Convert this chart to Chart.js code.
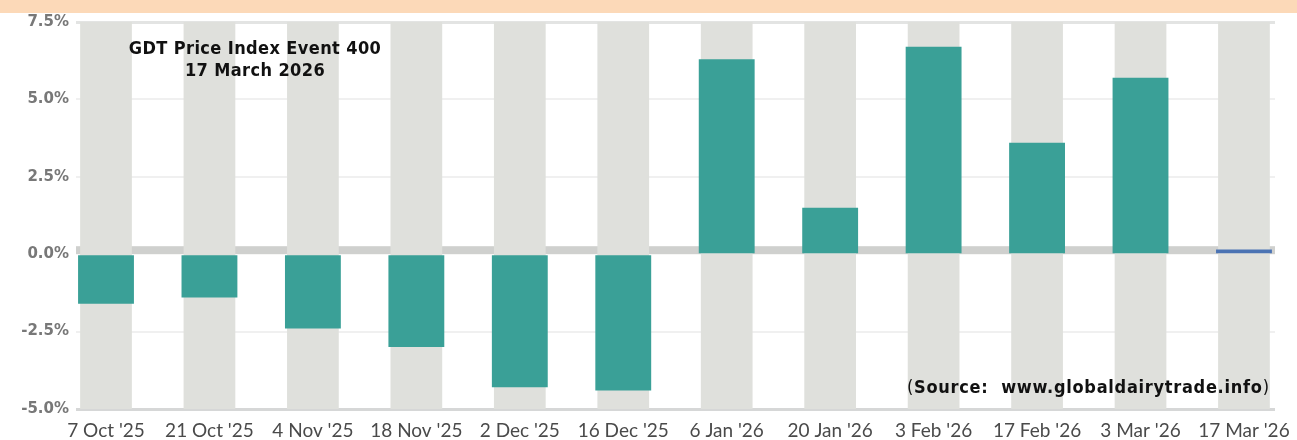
<!DOCTYPE html>
<html>
  <head>
    <meta charset="UTF-8" />
    <script src="https://cdn.jsdelivr.net/npm/chart.js"></script>
    <style>
      html, body { margin: 0; padding: 0; background: #fff; }
      #wrap { position: relative; width: 1297px; height: 440px; overflow: hidden; }
      #band { position: absolute; left: 0; top: 0; width: 1297px; height: 13px; background: #fcd9b8; }
      .note {
        position: absolute;
        font-family: "DejaVu Sans Condensed", "DejaVu Sans", sans-serif;
        font-weight: 700;
        color: #111;
        white-space: nowrap;
        font-size: 18px;
        line-height: 22px;
      }
      #title { left: 105px; top: 37px; width: 300px; text-align: center; letter-spacing: 0.4px; }
      #source { left: 907px; top: 376px; letter-spacing: 0.72px; }
      #source .p { font-weight: 400; }
    </style>
  </head>
  <body>
    <div id="wrap">
      <canvas id="myChart" width="1297" height="440"></canvas>
      <div id="band"></div>
      <div id="title" class="note">GDT Price Index Event 400<br />17 March 2026</div>
      <div id="source" class="note"><span class="p">(</span>Source:&nbsp; www.globaldairytrade.info<span class="p">)</span></div>
    </div>
    <script>
      // GDT auctions, percentage change in price index
      const labels = [
        "7 Oct '25", "21 Oct '25", "4 Nov '25", "18 Nov '25", "2 Dec '25", "16 Dec '25",
        "6 Jan '26", "20 Jan '26", "3 Feb '26", "17 Feb '26", "3 Mar '26", "17 Mar '26",
      ];
      const changes = [-1.6, -1.4, -2.4, -3.0, -4.3, -4.4, 6.3, 1.5, 6.7, 3.6, 5.7, 0.15];
      const yTicks = [-5, -2.5, 0, 2.5, 5, 7.5];

      const teal = "#3aa097";
      const blue = "#4b73b3";
      const colBg = "#dfe0dc";

      const yMin = yTicks[0];
      const yMax = yTicks[yTicks.length - 1];

      // thick grey band sitting just above the zero line
      const zeroBand = {
        id: "zeroBand",
        beforeDatasetsDraw(chart) {
          const { ctx, chartArea, scales } = chart;
          const y0 = scales.y.getPixelForValue(0);
          ctx.save();
          ctx.fillStyle = "#cfd0ce";
          ctx.fillRect(chartArea.left, y0 - 8, chartArea.right - chartArea.left, 8);
          ctx.restore();
        },
      };

      const config = {
        type: "bar",
        data: {
          datasets: [
            {
              label: "change",
              data: changes.map((v, i) => ({ x: i, y: v })),
              backgroundColor: changes.map((v, i) => (i === changes.length - 1 ? blue : teal)),
              barPercentage: 0.54,
              categoryPercentage: 1,
              grouped: false,
              order: 1,
            },
            {
              label: "column",
              data: changes.map((v, i) => ({ x: i, y: [yMin, yMax] })),
              backgroundColor: colBg,
              barPercentage: 0.5,
              categoryPercentage: 1,
              grouped: false,
              order: 2,
            },
          ],
        },
        plugins: [zeroBand],
        options: {
          responsive: false,
          animation: false,
          layout: { padding: { top: 22, right: 22, left: 0, bottom: 0 } },
          plugins: { legend: { display: false }, tooltip: { enabled: false } },
          scales: {
            x: {
              type: "linear",
              offset: false,
              min: -0.29,
              max: 11.3,
              afterFit: s => { s.height = 31; },
              afterBuildTicks: s => { s.ticks = labels.map((_, i) => ({ value: i })); },
              grid: { display: false },
              border: { display: false },
              ticks: {
                autoSkip: false,
                maxRotation: 0,
                padding: 2,
                color: "#4a4a4a",
                font: { family: "Lato", size: 19 },
                callback: v => labels[v],
              },
            },
            y: {
              min: yMin,
              max: yMax,
              afterFit: s => { s.width = 76; },
              afterBuildTicks: s => { s.ticks = yTicks.map(v => ({ value: v })); },
              border: { display: false },
              grid: {
                drawTicks: false,
                color: c => {
                  const v = c.tick.value;
                  if (v === 0) return "rgba(0,0,0,0)";
                  if (v === yMax) return "#e3e4e3";
                  if (v === yMin) return "#d6d7d7";
                  return "#f0f0f0";
                },
                lineWidth: c => {
                  const v = c.tick.value;
                  if (v === yMax || v === yMin) return 3;
                  return 2;
                },
              },
              ticks: {
                padding: 7,
                color: "#787878",
                font: { family: "DejaVu Sans", size: 15, weight: "bold" },
                callback: v => v.toFixed(1) + "%",
              },
            },
          },
        },
      };

      new Chart(document.getElementById("myChart"), config);
    </script>
  </body>
</html>
